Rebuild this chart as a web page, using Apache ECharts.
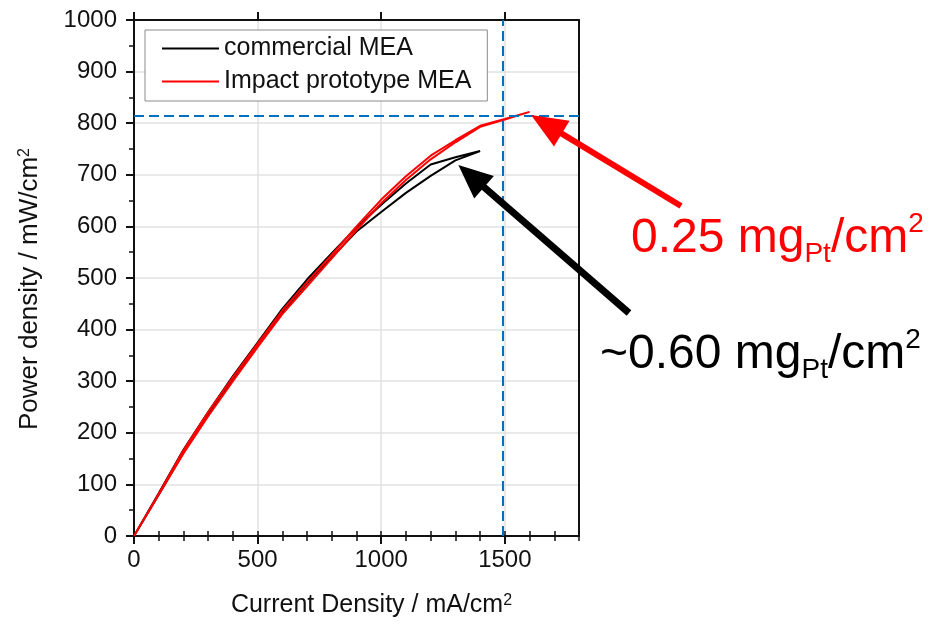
<!DOCTYPE html>
<html>
<head>
<meta charset="utf-8">
<script src="https://cdn.jsdelivr.net/npm/echarts@6/dist/echarts.min.js"></script>
<style>
  html, body { margin: 0; padding: 0; background: #fff; }
  #chart { width: 943px; height: 626px; }
</style>
</head>
<body>
<div id="chart"></div>
<script>
// values; each MEA was swept up then back down,
// so the current list runs out to the last point and returns to zero
var commercialCurrent = [0, 100, 200, 300, 400, 500, 600, 700, 800, 900, 1000, 1100, 1200, 1300, 1400,
                         1300, 1200, 1100, 1000, 900, 800, 700, 600, 500, 400, 300, 200, 100, 0];
var commercialPower   = [0, 83, 167, 240, 310, 375, 440, 497, 548, 598, 642, 683, 720, 734, 746,
                         728, 698, 665, 628, 590, 540, 490, 434, 370, 303, 235, 162, 80, 0];

var prototypeCurrent = [0, 100, 200, 300, 400, 500, 600, 700, 800, 900, 1000, 1100, 1200, 1300, 1400, 1500, 1600,
                        1500, 1400, 1300, 1200, 1100, 1000, 900, 800, 700, 600, 500, 400, 300, 200, 100, 0];
var prototypePower   = [0, 82, 166, 240, 308, 373, 437, 492, 545, 600, 652, 697, 737, 767, 795, 808, 822,
                        807, 793, 763, 730, 690, 645, 593, 538, 484, 430, 366, 300, 232, 160, 80, 0];

var seriesNames = ['commercial MEA', 'Impact prototype MEA'];
var xMajorTicks = [0, 500, 1000, 1500];

// dashed guide lines
var refCurrent = 1490;
var refPower = 815;

// arrow tips sit on the curves (data units), tails are free annotation points (px)
var redArrowTip = [1606, 816];
var blackArrowTip = [1312, 719];

var FONT = '"Liberation Sans", Arial, sans-serif';

function zip(xs, ys) {
  var out = [];
  for (var i = 0; i < xs.length; i++) out.push([xs[i], ys[i]]);
  return out;
}

function plain(v) { return String(v); }

var chart = echarts.init(document.getElementById('chart'));

function nameStyle(size, padding) {
  return {
    fontFamily: FONT, fontSize: size, color: '#111', padding: padding,
    rich: { sup: { fontFamily: FONT, fontSize: 16, color: '#111', verticalAlign: 'top', lineHeight: 16 } }
  };
}

var option = {
  animation: false,
  textStyle: { fontFamily: FONT },
  grid: { left: 134, right: 364, top: 20, bottom: 90 },
  legend: {
    left: 145, top: 30,
    orient: 'vertical',
    padding: [6, 16, 7, 17],
    itemGap: 8,
    itemWidth: 57, itemHeight: 2,
    icon: 'rect',
    borderColor: '#8a8a8a', borderWidth: 1, borderRadius: 0,
    backgroundColor: '#fff',
    selectedMode: false,
    textStyle: { fontFamily: FONT, fontSize: 25, color: '#111' },
    data: seriesNames
  },
  xAxis: [
    {
      type: 'value', position: 'bottom', min: 0, max: 1800, interval: 500,
      name: 'Current Density / mA/cm{sup|2}', nameLocation: 'middle', nameGap: 57,
      nameTextStyle: nameStyle(25, [0, 0, 0, 30]),
      axisLine: { onZero: false, lineStyle: { color: '#111', width: 2 } },
      axisTick: { inside: false, length: 8, lineStyle: { color: '#111', width: 2 }, customValues: xMajorTicks },
      axisLabel: { margin: 12, fontFamily: FONT, fontSize: 24, color: '#111', formatter: plain,
                   customValues: xMajorTicks },
      splitLine: { show: true, lineStyle: { color: '#e2e2e2', width: 1.5 } }
    },
    {
      type: 'value', position: 'bottom', min: 0, max: 1800, interval: 100,
      axisLine: { show: false },
      axisTick: { inside: false, length: 5, lineStyle: { color: '#111', width: 1.5 } },
      axisLabel: { show: false },
      splitLine: { show: false }
    },
    {
      type: 'value', position: 'top', min: 0, max: 1800, interval: 500,
      axisLine: { onZero: false, lineStyle: { color: '#111', width: 2 } },
      axisTick: { inside: false, length: 8, lineStyle: { color: '#111', width: 2 }, customValues: xMajorTicks },
      axisLabel: { show: false },
      splitLine: { show: false }
    },
    {
      type: 'value', position: 'top', min: 0, max: 1800, interval: 100,
      axisLine: { show: false },
      axisTick: { inside: false, length: 5, lineStyle: { color: '#111', width: 1.5 } },
      axisLabel: { show: false },
      splitLine: { show: false }
    }
  ],
  yAxis: [
    {
      type: 'value', position: 'left', min: 0, max: 1000, interval: 100,
      name: 'Power density / mW/cm{sup|2}', nameLocation: 'middle', nameGap: 91,
      nameTextStyle: nameStyle(26, [0, 22, 0, 0]),
      axisLine: { onZero: false, lineStyle: { color: '#111', width: 2 } },
      axisTick: { inside: false, length: 8, lineStyle: { color: '#111', width: 2 } },
      minorTick: { show: true, splitNumber: 2, length: 5, lineStyle: { color: '#111', width: 1.5 } },
      axisLabel: { margin: 17, fontFamily: FONT, fontSize: 24, color: '#111', formatter: plain },
      splitLine: { show: true, lineStyle: { color: '#e2e2e2', width: 1.5 } }
    },
    {
      type: 'value', position: 'right', min: 0, max: 1000, interval: 100,
      axisLine: { show: true, onZero: false, lineStyle: { color: '#111', width: 2 } },
      axisTick: { show: false },
      axisLabel: { show: false },
      splitLine: { show: false }
    }
  ],
  series: [
    {
      name: seriesNames[0], type: 'line', xAxisIndex: 0, yAxisIndex: 0,
      data: zip(commercialCurrent, commercialPower),
      symbol: 'none', smooth: false, clip: false,
      lineStyle: { color: '#000', width: 2 }, itemStyle: { color: '#000' },
      z: 3
    },
    {
      name: seriesNames[1], type: 'line', xAxisIndex: 0, yAxisIndex: 0,
      data: zip(prototypeCurrent, prototypePower),
      symbol: 'none', smooth: false, clip: false,
      lineStyle: { color: '#ff0000', width: 2 }, itemStyle: { color: '#ff0000' },
      z: 4,
      markLine: {
        silent: true, symbol: 'none', label: { show: false },
        lineStyle: { color: '#0070c0', type: [10, 5], width: 2 },
        emphasis: { disabled: true },
        data: [{ xAxis: refCurrent }, { yAxis: refPower }]
      }
    }
  ]
};

chart.setOption(option);

// arrows and the loading labels, placed once the axes exist
function arrowShapes(tip, tail, color, width, headLen, headWidth) {
  var dx = tip[0] - tail[0], dy = tip[1] - tail[1];
  var len = Math.sqrt(dx * dx + dy * dy);
  var ux = dx / len, uy = dy / len;
  var bx = tip[0] - ux * headLen, by = tip[1] - uy * headLen;
  var nx = -uy, ny = ux;
  return [
    { type: 'line', silent: true, z: 10,
      shape: { x1: tail[0], y1: tail[1], x2: bx + ux * 2, y2: by + uy * 2 },
      style: { stroke: color, lineWidth: width } },
    { type: 'polygon', silent: true, z: 10,
      shape: { points: [tip, [bx + nx * headWidth / 2, by + ny * headWidth / 2], [bx - nx * headWidth / 2, by - ny * headWidth / 2]] },
      style: { fill: color } }
  ];
}

function loadingLabel(text, left, top, color) {
  return {
    type: 'text', left: left, top: top, silent: true, z: 10,
    style: {
      text: text, fill: color, fontFamily: FONT, fontSize: 48, lineHeight: 58,
      rich: {
        sub: { fontFamily: FONT, fontSize: 28, fill: color, verticalAlign: 'bottom', lineHeight: 20 },
        sup: { fontFamily: FONT, fontSize: 28, fill: color, verticalAlign: 'top', lineHeight: 38 }
      }
    }
  };
}

var redTip = chart.convertToPixel({ xAxisIndex: 0, yAxisIndex: 0 }, redArrowTip);
var blackTip = chart.convertToPixel({ xAxisIndex: 0, yAxisIndex: 0 }, blackArrowTip);

var elements = []
  .concat(arrowShapes(redTip, [681, 206], '#ff0000', 6, 36, 30))
  .concat(arrowShapes(blackTip, [629, 313], '#000000', 7, 34, 30));
elements.push(loadingLabel('0.25 mg{sub|Pt}/cm{sup|2}', 631, 210, '#ff0000'));
elements.push(loadingLabel('~0.60 mg{sub|Pt}/cm{sup|2}', 600, 326, '#000000'));

chart.setOption({ graphic: { elements: elements } });
</script>
</body>
</html>
